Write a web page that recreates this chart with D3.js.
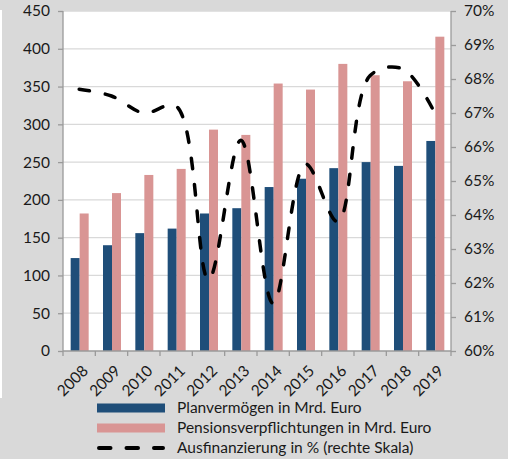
<!DOCTYPE html>
<html>
<head>
<meta charset="utf-8">
<script src="https://cdn.jsdelivr.net/npm/d3@7"></script>
<style>
  body { margin: 0; background: #d9d9d9; }
  text { font-family: Lato, "Open Sans", sans-serif; fill: #1a1a1a; }
</style>
</head>
<body>
<script>
// data
var years = ["2008","2009","2010","2011","2012","2013","2014","2015","2016","2017","2018","2019"];
var planvermoegen = [123, 140, 156, 162, 182, 189, 217, 228, 242, 250, 245, 278];
var verpflichtungen = [182, 209, 233, 241, 293, 286, 354, 346, 380, 365, 357, 416];
var ausfinanzierung = [67.7, 67.5, 67.0, 67.2, 62.1, 66.2, 61.4, 65.5, 63.8, 68.1, 68.3, 67.0];
var leftTicks = [0, 50, 100, 150, 200, 250, 300, 350, 400, 450];
var rightTicks = [60, 61, 62, 63, 64, 65, 66, 67, 68, 69, 70];
var legendLabels = ["Planvermögen in Mrd. Euro", "Pensionsverpflichtungen in Mrd. Euro", "Ausfinanzierung in % (rechte Skala)"];

var W = 508, H = 459;
var margin = {top: 11, right: 57, bottom: 108, left: 63},
width = W - margin.left - margin.right,
height = H - margin.top - margin.bottom;

var blue = "#1f4e79", pink = "#d99594", axisCol = "#9a9a9a", gridCol = "#d9d9d9";

var svg = d3.select("body").append("svg")
  .attr("width", W)
  .attr("height", H);

// thin white strip at the left edge
svg.append("rect").attr("x", 0).attr("y", 10).attr("width", 2).attr("height", 388).attr("fill", "#fff");

var g = svg.append("g")
  .attr("transform", "translate(" + margin.left + "," + margin.top + ")");

g.append("rect").attr("width", width).attr("height", height).attr("fill", "#fff");

var x = d3.scaleBand().domain(years).range([0, width]);
var yL = d3.scaleLinear().domain([0, 450]).range([height, 0]);
var yR = d3.scaleLinear().domain([60, 70]).range([height, 0]);

// gridlines
g.selectAll(".grid")
  .data(leftTicks.filter(function(d) { return d > 0; }))
  .enter().append("line")
  .attr("x1", 0).attr("x2", width)
  .attr("y1", function(d) { return yL(d); })
  .attr("y2", function(d) { return yL(d); })
  .attr("stroke", gridCol).attr("stroke-width", 1.3);

// bars
var bw = 9;
g.selectAll(".bar1")
  .data(years)
  .enter().append("rect")
  .attr("x", function(d) { return x(d) + x.bandwidth() / 2 - bw + 0.5; })
  .attr("y", function(d, i) { return yL(planvermoegen[i]); })
  .attr("width", bw)
  .attr("height", function(d, i) { return height - yL(planvermoegen[i]); })
  .attr("fill", blue);
g.selectAll(".bar2")
  .data(years)
  .enter().append("rect")
  .attr("x", function(d) { return x(d) + x.bandwidth() / 2 + 0.5; })
  .attr("y", function(d, i) { return yL(verpflichtungen[i]); })
  .attr("width", bw)
  .attr("height", function(d, i) { return height - yL(verpflichtungen[i]); })
  .attr("fill", pink);

// line (right scale)
var line = d3.line()
  .x(function(d, i) { return x(years[i]) + x.bandwidth() / 2; })
  .y(function(d) { return yR(d); })
  .curve(d3.curveCatmullRom.alpha(0.5));
g.append("path")
  .datum(ausfinanzierung)
  .attr("d", line)
  .attr("fill", "none")
  .attr("stroke", "#000")
  .attr("stroke-width", 3.5)
  .attr("stroke-linecap", "round")
  .attr("stroke-dasharray", "10.5,16");

// axes
var axL = g.append("g")
  .call(d3.axisLeft(yL).tickValues(leftTicks).tickSize(5).tickPadding(8));
var axR = g.append("g")
  .attr("transform", "translate(" + width + ",0)")
  .call(d3.axisRight(yR).tickValues(rightTicks).tickSize(5).tickPadding(8).tickFormat(function(d) { return d + "%"; }));
var axB = g.append("g")
  .attr("transform", "translate(0," + height + ")")
  .call(d3.axisBottom(x).tickSize(0).tickFormat(""));
// bottom ticks between categories
g.selectAll(".btick")
  .data(years.concat(["end"]))
  .enter().append("line")
  .attr("x1", function(d, i) { return i * x.step(); })
  .attr("x2", function(d, i) { return i * x.step(); })
  .attr("y1", height).attr("y2", height + 5)
  .attr("stroke", axisCol).attr("stroke-width", 1.3);

[axL, axR, axB].forEach(function(a) {
  a.selectAll("path, line").attr("stroke", axisCol).attr("stroke-width", 1.3);
  a.selectAll("text").style("font-size", "15.5px").attr("fill", "#1a1a1a");
  a.select(".domain").attr("d", a === axB ? "M0,0H" + width : "M0,0V" + height);
});

// x labels, rotated
g.selectAll(".xlab")
  .data(years)
  .enter().append("text")
  .attr("transform", function(d) {
    return "translate(" + (x(d) + x.bandwidth() / 2 + 6) + "," + (height + 17) + ") rotate(-45)";
  })
  .attr("text-anchor", "end")
  .attr("dy", "0.35em")
  .style("font-size", "15.5px")
  .text(function(d) { return d; });

// legend
var legend = svg.append("g").attr("transform", "translate(97,408)");
var rows = legend.selectAll(".row")
  .data(legendLabels)
  .enter().append("g")
  .attr("transform", function(d, i) { return "translate(0," + (i * 20) + ")"; });
rows.each(function(d, i) {
  var r = d3.select(this);
  if (i < 2) {
    r.append("rect").attr("x", 0).attr("y", -4.5).attr("width", 68).attr("height", 9)
      .attr("fill", i === 0 ? blue : pink);
  } else {
    r.append("line").attr("x1", 2).attr("x2", 66).attr("y1", 0).attr("y2", 0)
      .attr("stroke", "#000").attr("stroke-width", 4)
      .attr("stroke-linecap", "round")
      .attr("stroke-dasharray", "11.5,16");
  }
  r.append("text").attr("x", 80).attr("dy", "0.35em")
    .style("font-size", "15.5px")
    .text(d);
});
</script>
</body>
</html>
